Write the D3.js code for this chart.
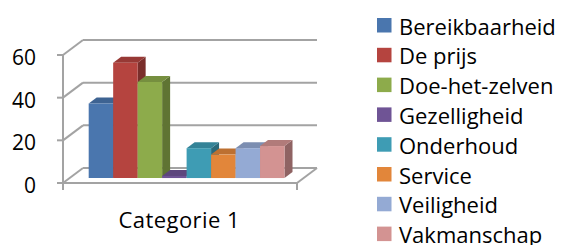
<!DOCTYPE html>
<html><head><meta charset="utf-8">
<script src="https://cdn.jsdelivr.net/npm/d3@7"></script>
<style>html,body{margin:0;padding:0;background:#fff;}svg{display:block;}</style>
</head><body>
<svg id="chart" width="564" height="245"></svg>
<script>
const categories = ["Categorie 1"];
const seriesNames = ["Bereikbaarheid","De prijs","Doe-het-zelven","Gezelligheid","Onderhoud","Service","Veiligheid","Vakmanschap"];
const seriesValues = [35, 54, 45, 1, 14, 11, 14, 15];
const seriesColors = ["#4A76AE","#B5443F","#8DAB4B","#6F5495","#3E9CB4","#E2863A","#94AAD4","#D39392"];
const yTicks = [0, 20, 40, 60];

const svg = d3.select("#chart");
const font = "'Open Sans', sans-serif";
const gridColor = "#A3A3A3";

// 3D projection parameters
const depthDX = 20, depthDY = -15;
const x = d3.scaleBand().domain(categories).range([63, 297]).paddingInner(0).paddingOuter(0);
const y = d3.scaleLinear().domain([0, 60]).range([183, 55]);
const xs = d3.scaleBand().domain(seriesNames).range([x(categories[0]), x(categories[0]) + x.bandwidth()]).paddingInner(0).paddingOuter(0.78);
const P = (px, v, t) => [px + depthDX * t, y(v) + depthDY * t];

const g = svg.append("g");
const line = (a, b) => g.append("line").attr("x1", a[0]).attr("y1", a[1]).attr("x2", b[0]).attr("y2", b[1])
  .attr("stroke", gridColor).attr("stroke-width", 2);

const x0 = x.range()[0], x1 = x.range()[1];
// back wall gridlines and left wall diagonals
yTicks.forEach(v => {
  line(P(x0, v, 0), P(x0, v, 1));
  line(P(x0, v, 1), P(x1, v, 1));
  line([x0 - 6, y(v)], [x0, y(v)]);
});
// front vertical axis
line(P(x0, 0, 0), P(x0, 60, 0));
// floor front and right edges
line(P(x0, 0, 0), P(x1, 0, 0));
line(P(x1, 0, 0), P(x1, 0, 1));
// category ticks
line([x0, y(0)], [x0, y(0) + 7]);
line([x1, y(0)], [x1, y(0) + 7]);

// y labels
g.selectAll("text.ylab").data(yTicks).join("text").attr("class", "ylab")
  .attr("x", 36).attr("y", d => y(d) + 2).attr("text-anchor", "end").attr("dominant-baseline", "central")
  .attr("font-family", font).attr("font-size", 21).attr("fill", "#000").text(d => d);

// category label
g.append("text").attr("x", (x0 + x1) / 2 - 1).attr("y", 219).attr("text-anchor", "middle").attr("dominant-baseline", "central")
  .attr("font-family", font).attr("font-size", 22).attr("textLength", 121).attr("lengthAdjust", "spacing")
  .attr("fill", "#000").text(categories[0]);

// bars
const t0 = 0.33, t1 = 0.73;
const poly = pts => pts.map(p => p.join(",")).join(" ");
seriesNames.forEach((name, i) => {
  const v = seriesValues[i];
  const c = d3.color(seriesColors[i]);
  const L = xs(name), R = L + xs.bandwidth();
  const bar = g.append("g");
  bar.append("polygon").attr("points", poly([P(R, 0, t0), P(R, 0, t1), P(R, v, t1), P(R, v, t0)]))
    .attr("fill", c.darker(1.1));
  bar.append("polygon").attr("points", poly([P(L, v, t0), P(R, v, t0), P(R, v, t1), P(L, v, t1)]))
    .attr("fill", c.darker(0.5));
  bar.append("polygon").attr("points", poly([P(L, 0, t0), P(R, 0, t0), P(R, v, t0), P(L, v, t0)]))
    .attr("fill", c);
});

// legend
const leg = svg.append("g");
seriesNames.forEach((name, i) => {
  const cy = 25 + 29.8 * i;
  leg.append("rect").attr("x", 377).attr("y", cy - 7).attr("width", 14.5).attr("height", 14.5).attr("fill", seriesColors[i]);
  leg.append("text").attr("x", 399).attr("y", cy + 0.5).attr("dominant-baseline", "central")
    .attr("font-family", font).attr("font-size", 22).attr("fill", "#000").text(name);
});
</script>
</body></html>
